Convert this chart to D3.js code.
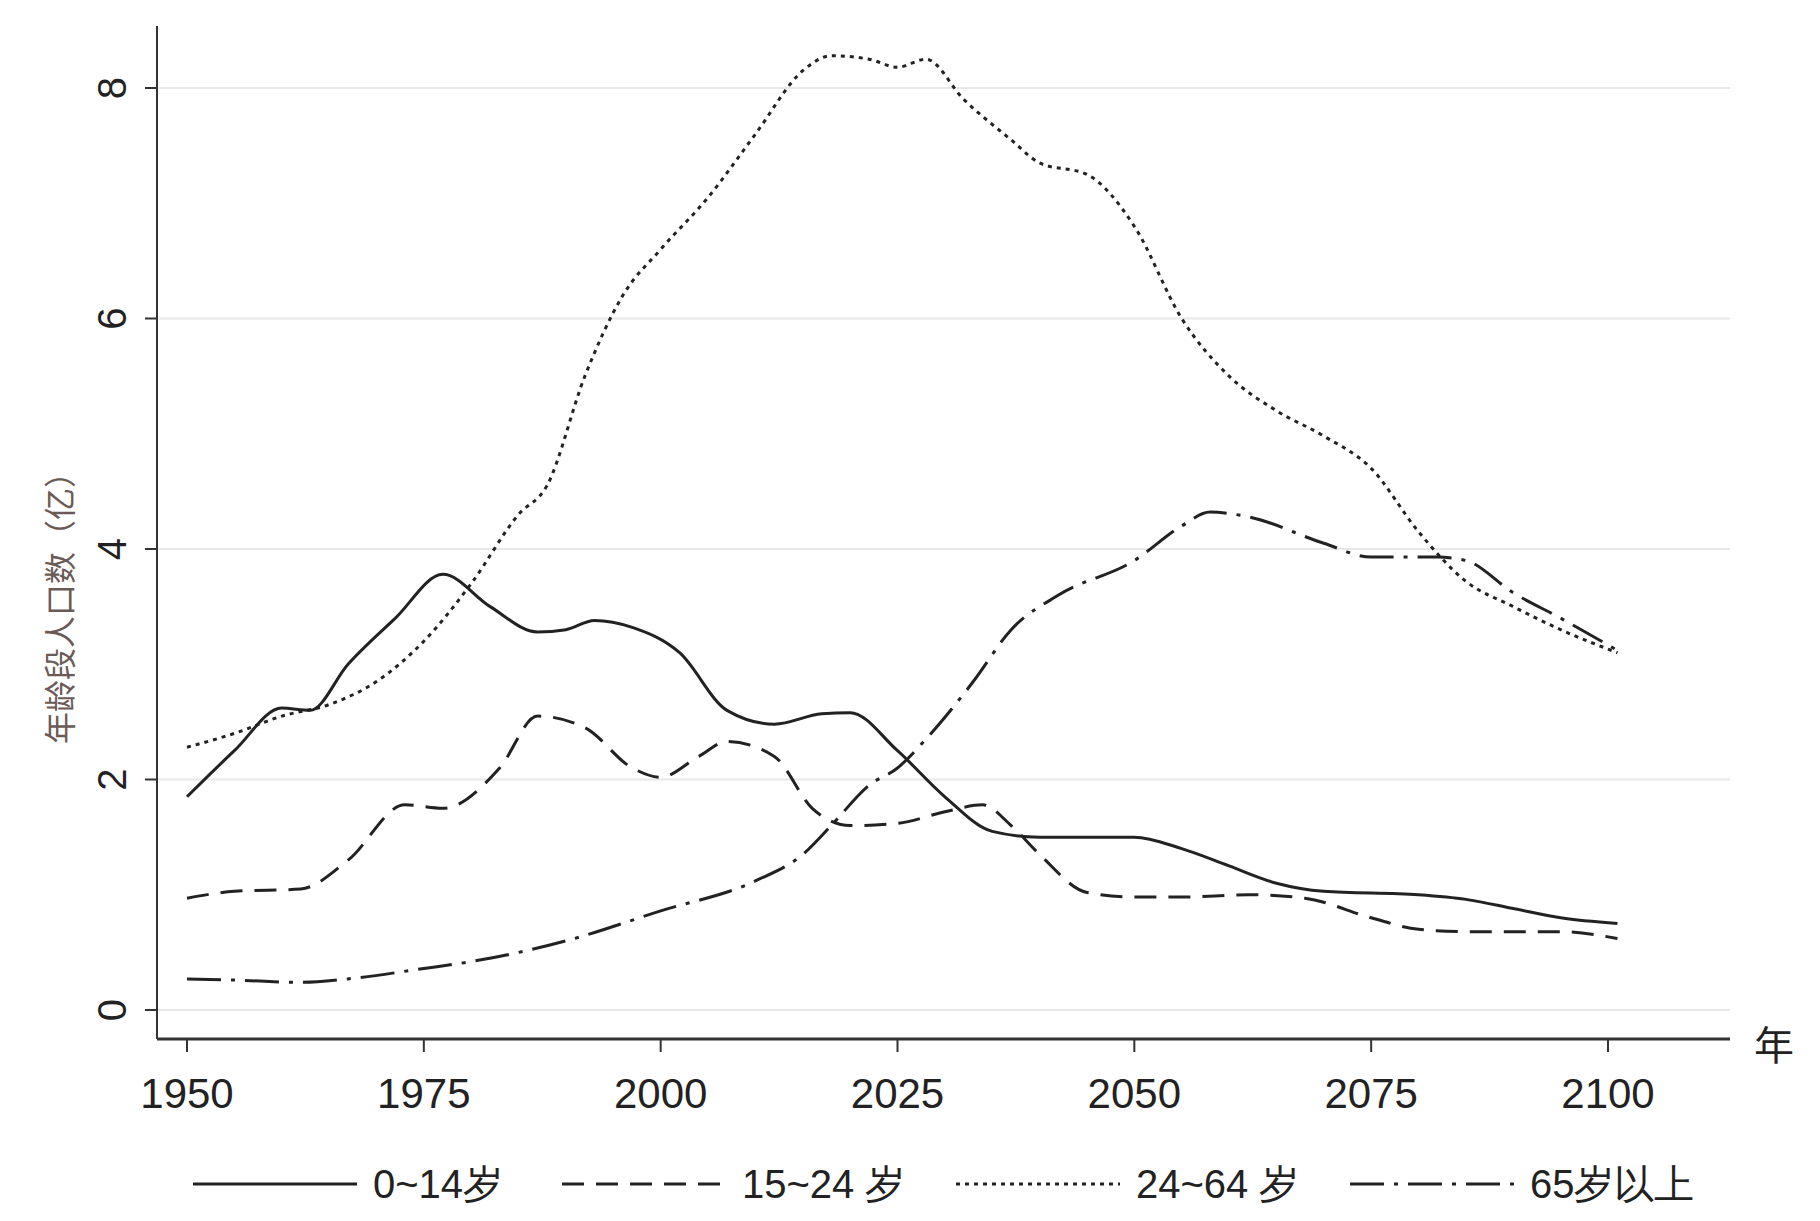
<!DOCTYPE html>
<html>
<head>
<meta charset="utf-8">
<script src="https://cdn.jsdelivr.net/npm/d3@7"></script>
<style>
  body { margin: 0; background: #fff; }
  text { font-family: "Liberation Sans Narrow", "Liberation Sans", sans-serif; fill: #222; }
</style>
</head>
<body>
<svg id="chart" width="1820" height="1221"></svg>
<script>
'use strict';

var xTicks = [1950, 1975, 2000, 2025, 2050, 2075, 2100];
var yTicks = [0, 2, 4, 6, 8];

var age0to14 = [[1950,1.85],[1955,2.25],[1960,2.62],[1963,2.6],[1967,3.0],[1972,3.4],[1977,3.78],
  [1982,3.5],[1987,3.28],[1990,3.3],[1993,3.38],[1997,3.32],[2002,3.1],[2007,2.6],[2012,2.48],
  [2017,2.57],[2020,2.58],[2025,2.25],[2030,1.85],[2035,1.55],[2040,1.5],[2050,1.5],[2055,1.4],
  [2060,1.25],[2065,1.1],[2070,1.03],[2080,1.0],[2085,0.96],[2090,0.88],[2095,0.8],[2101,0.75]];

var age15to24 = [[1950,0.97],[1955,1.03],[1962,1.05],[1967,1.3],[1973,1.78],[1977,1.75],[1983,2.1],
  [1987,2.55],[1992,2.45],[1997,2.1],[2000,2.02],[2004,2.2],[2007,2.33],[2012,2.2],[2016,1.75],
  [2020,1.6],[2025,1.62],[2030,1.72],[2034,1.78],[2037,1.6],[2040,1.35],[2045,1.02],[2050,0.98],
  [2055,0.98],[2062,1.0],[2068,0.97],[2075,0.8],[2080,0.7],[2085,0.68],[2095,0.68],[2101,0.62]];

var age24to64 = [[1950,2.28],[1955,2.4],[1960,2.55],[1965,2.65],[1970,2.85],[1975,3.2],[1980,3.7],
  [1985,4.3],[1988,4.55],[1992,5.5],[1996,6.2],[2000,6.6],[2005,7.05],[2010,7.6],[2015,8.15],
  [2018,8.28],[2022,8.25],[2025,8.18],[2028,8.25],[2032,7.9],[2037,7.55],[2040,7.35],[2045,7.25],
  [2050,6.8],[2055,6.0],[2060,5.5],[2065,5.2],[2070,4.98],[2075,4.7],[2080,4.15],[2085,3.72],
  [2090,3.5],[2095,3.3],[2101,3.1]];

var age65plus = [[1950,0.27],[1955,0.26],[1962,0.24],[1967,0.27],[1975,0.36],[1980,0.42],[1990,0.6],
  [2000,0.86],[2010,1.12],[2015,1.35],[2018,1.6],[2022,1.95],[2025,2.1],[2028,2.35],[2033,2.85],
  [2037,3.3],[2042,3.6],[2050,3.9],[2055,4.2],[2058,4.32],[2062,4.28],[2070,4.05],[2075,3.93],
  [2082,3.93],[2085,3.9],[2090,3.62],[2095,3.4],[2101,3.12]];

var seriesNames = ['0~14岁', '15~24 岁', '24~64 岁', '65岁以上'];
var dashes = [null, '22,12', '4,5', '34,10,4,10'];
var series = [age0to14, age15to24, age24to64, age65plus];

var svg = d3.select('#chart');
var x = d3.scaleLinear().domain([1950, 2100]).range([187, 1608]);
var y = d3.scaleLinear().domain([0, 8]).range([1010, 88]);

/* grid */
svg.append('g').selectAll('line').data(yTicks).enter().append('line')
  .attr('x1', 157).attr('x2', 1730)
  .attr('y1', function(d) { return y(d); }).attr('y2', function(d) { return y(d); })
  .attr('stroke', '#e8e8e8').attr('stroke-width', 2);

/* axes */
svg.append('line').attr('x1', 157).attr('x2', 157).attr('y1', 26).attr('y2', 1039)
  .attr('stroke', '#333').attr('stroke-width', 2);
svg.append('line').attr('x1', 157).attr('x2', 1730).attr('y1', 1039).attr('y2', 1039)
  .attr('stroke', '#333').attr('stroke-width', 3);

svg.append('g').selectAll('line').data(yTicks).enter().append('line')
  .attr('x1', 145).attr('x2', 157)
  .attr('y1', function(d) { return y(d); }).attr('y2', function(d) { return y(d); })
  .attr('stroke', '#333').attr('stroke-width', 2);
svg.append('g').selectAll('text').data(yTicks).enter().append('text')
  .attr('transform', function(d) { return 'translate(126,' + y(d) + ') rotate(-90)'; })
  .attr('text-anchor', 'middle').style('font-size', '40px').text(function(d) { return d; });

svg.append('g').selectAll('line').data(xTicks).enter().append('line')
  .attr('x1', function(d) { return x(d); }).attr('x2', function(d) { return x(d); })
  .attr('y1', 1039).attr('y2', 1052).attr('stroke', '#333').attr('stroke-width', 2);
svg.append('g').selectAll('text').data(xTicks).enter().append('text')
  .attr('x', function(d) { return x(d); }).attr('y', 1108)
  .attr('text-anchor', 'middle').style('font-size', '42px').text(function(d) { return d; });

svg.append('text').attr('x', 1754).attr('y', 1060).style('font-size', '40px')
  .style('font-family', '"Noto Sans CJK SC", sans-serif').text('年');
svg.append('text').attr('transform', 'translate(72,600) rotate(-90)')
  .attr('text-anchor', 'middle').style('font-size', '32px')
  .style('font-family', '"Noto Sans CJK SC", sans-serif').style('fill', '#6b5a55')
  .text('年龄段人口数（亿）');

/* lines */
var line = d3.line()
  .x(function(d) { return x(d[0]); })
  .y(function(d) { return y(d[1]); })
  .curve(d3.curveMonotoneX);

series.forEach(function(s, i) {
  svg.append('path').datum(s).attr('d', line).attr('fill', 'none')
    .attr('stroke', '#222').attr('stroke-width', 3)
    .attr('stroke-dasharray', dashes[i]);
});

/* legend */
var legX = [193, 562, 956, 1350];
var legend = svg.append('g').selectAll('g').data(seriesNames).enter().append('g')
  .attr('transform', function(d, i) { return 'translate(' + legX[i] + ',1184)'; });
legend.append('line').attr('x1', 0).attr('x2', 164).attr('y1', 0).attr('y2', 0)
  .attr('stroke', '#222').attr('stroke-width', 3)
  .attr('stroke-dasharray', function(d, i) { return dashes[i]; });
legend.append('text').attr('x', 180).attr('y', 14).style('font-size', '40px')
  .text(function(d) { return d; });
</script>
</body>
</html>
